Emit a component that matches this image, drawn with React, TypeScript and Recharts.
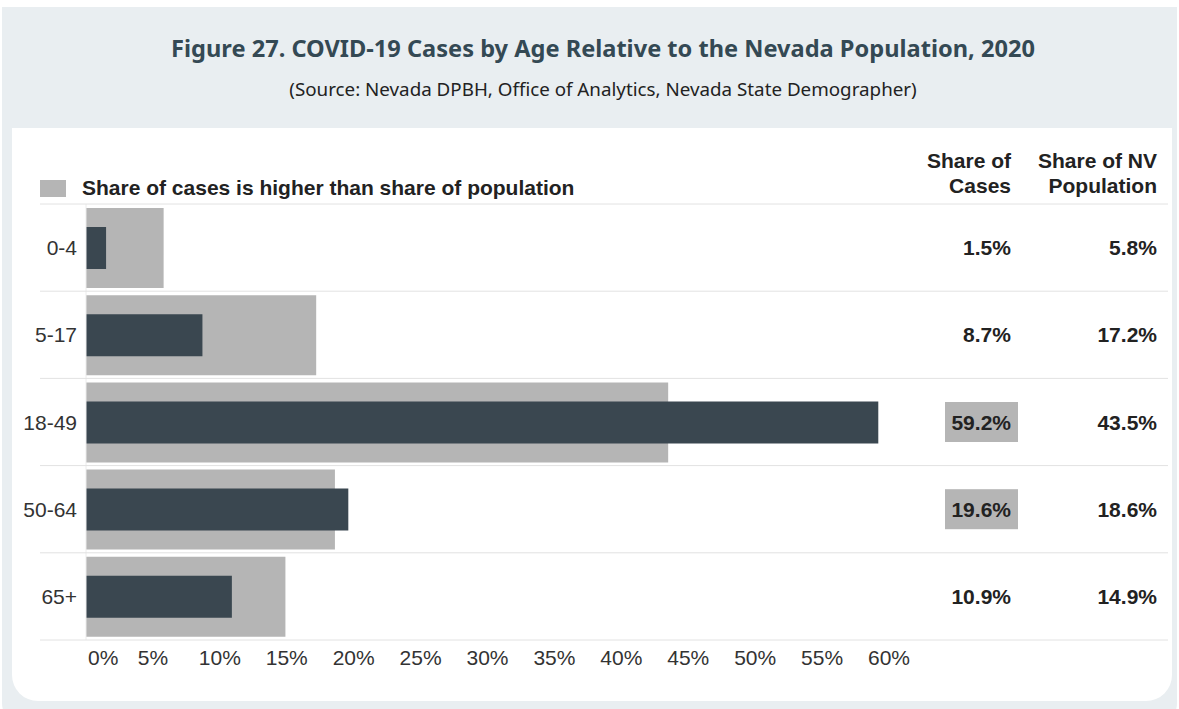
import { Bar, BarChart, XAxis, YAxis } from "recharts";

const ageGroups = ["0-4", "5-17", "18-49", "50-64", "65+"];
const shareOfCases = [1.5, 8.7, 59.2, 19.6, 10.9];
const shareOfPopulation = [5.8, 17.2, 43.5, 18.6, 14.9];
const xTicks = [0, 5, 10, 15, 20, 25, 30, 35, 40, 45, 50, 55, 60];

const data = ageGroups.map((age, i) => ({
  age,
  cases: shareOfCases[i],
  population: shareOfPopulation[i],
}));

const FONT = '"Liberation Sans", Arial, sans-serif';
const PLOT_TOP = 204;
const PLOT_BOTTOM = 640;
const BAND = (PLOT_BOTTOM - PLOT_TOP) / ageGroups.length;
const DARK = "#3a4750";
const GREY = "#b5b5b5";
const RULE = "#e2e2e2";

function AgeTick(props: any) {
  const { y, payload, index } = props;
  return (
    <g>
      {index === 0 && (
        <line x1={40} x2={1168} y1={y - BAND / 2} y2={y - BAND / 2} stroke={RULE} />
      )}
      <line x1={40} x2={1168} y1={y + BAND / 2} y2={y + BAND / 2} stroke={RULE} />
      <text x={77} y={y} dy="0.36em" textAnchor="end" fontSize={21} fill="#333" fontFamily={FONT}>
        {payload.value}
      </text>
    </g>
  );
}

function TableTick(props: any) {
  const { y, index } = props;
  const row = data[index];
  const higher = row.cases > row.population;
  return (
    <g fontFamily={FONT} fontSize={21} fontWeight="bold" fill="#222">
      {higher && <rect x={945} y={y - 20} width={73} height={40} fill={GREY} />}
      <text x={1011} y={y} dy="0.36em" textAnchor="end">
        {row.cases.toFixed(1)}%
      </text>
      <text x={1157} y={y} dy="0.36em" textAnchor="end">
        {row.population.toFixed(1)}%
      </text>
    </g>
  );
}

function PctTick(props: any) {
  const { x, y, payload, index } = props;
  return (
    <text
      x={index === 0 ? x + 2 : x}
      y={y}
      dy="0.71em"
      textAnchor={index === 0 ? "start" : "middle"}
      fontSize={21}
      fill="#333"
      fontFamily={FONT}
    >
      {payload.value}%
    </text>
  );
}

export default function App() {
  return (
    <div style={{ position: "absolute", left: 0, top: 0, width: 1179, height: 709, background: "#fff", overflow: "hidden" }}>
      <div
        style={{
          position: "absolute",
          left: 2,
          top: 7,
          width: 1175,
          height: 720,
          background: "#e9eef1",
          borderRadius: "0 0 24px 24px",
        }}
      />
      <div
        style={{
          position: "absolute",
          left: 0,
          top: 33,
          width: 1206,
          textAlign: "center",
          fontFamily: '"Noto Sans", sans-serif',
          fontWeight: 700,
          fontSize: 23.6,
          color: "#344954",
          lineHeight: "30px",
          whiteSpace: "nowrap",
        }}
      >
        Figure 27. COVID-19 Cases by Age Relative to the Nevada Population, 2020
      </div>
      <div
        style={{
          position: "absolute",
          left: 0,
          top: 76,
          width: 1206,
          textAlign: "center",
          fontFamily: '"Noto Sans", sans-serif',
          fontSize: 18.8,
          color: "#222",
          lineHeight: "26px",
          whiteSpace: "nowrap",
        }}
      >
        (Source: Nevada DPBH, Office of Analytics, Nevada State Demographer)
      </div>
      <div
        style={{
          position: "absolute",
          left: 12,
          top: 128,
          width: 1160,
          height: 573,
          background: "#fff",
          borderRadius: "0 0 26px 26px",
        }}
      />
      <div style={{ position: "absolute", left: 40, top: 180, width: 26, height: 17, background: GREY }} />
      <div
        style={{
          position: "absolute",
          left: 82,
          top: 175,
          fontFamily: FONT,
          fontWeight: 700,
          fontSize: 21,
          color: "#222",
          lineHeight: "26px",
          whiteSpace: "nowrap",
        }}
      >
        Share of cases is higher than share of population
      </div>
      <div
        style={{
          position: "absolute",
          right: 1179 - 1011,
          top: 148,
          textAlign: "right",
          fontFamily: FONT,
          fontWeight: 700,
          fontSize: 21,
          color: "#222",
          lineHeight: "25px",
        }}
      >
        Share of
        <br />
        Cases
      </div>
      <div
        style={{
          position: "absolute",
          right: 1179 - 1157,
          top: 148,
          textAlign: "right",
          fontFamily: FONT,
          fontWeight: 700,
          fontSize: 21,
          color: "#222",
          lineHeight: "25px",
          whiteSpace: "nowrap",
        }}
      >
        Share of NV
        <br />
        Population
      </div>
      <div style={{ position: "absolute", left: 0, top: 0 }}>
        <BarChart
          width={1179}
          height={709}
          data={data}
          layout="vertical"
          margin={{ top: PLOT_TOP, right: 11, bottom: 39, left: 0 }}
        >
          <XAxis
            type="number"
            domain={[0, 60]}
            ticks={xTicks}
            axisLine={false}
            tickLine={false}
            tickSize={0}
            tickMargin={10}
            height={30}
            tick={<PctTick />}
            interval={0}
          />
          <YAxis
            yAxisId="left"
            type="category"
            dataKey="age"
            width={86}
            axisLine={{ stroke: "#ececec" }}
            tickLine={false}
            tick={<AgeTick />}
          />
          <YAxis
            yAxisId="right"
            orientation="right"
            type="category"
            dataKey="age"
            width={279}
            axisLine={false}
            tickLine={false}
            tick={<TableTick />}
          />
          <Bar dataKey="population" yAxisId="left" barSize={80} fill={GREY} isAnimationActive={false} />
          <Bar dataKey="cases" yAxisId="right" barSize={42} fill={DARK} isAnimationActive={false} />
        </BarChart>
      </div>
    </div>
  );
}
